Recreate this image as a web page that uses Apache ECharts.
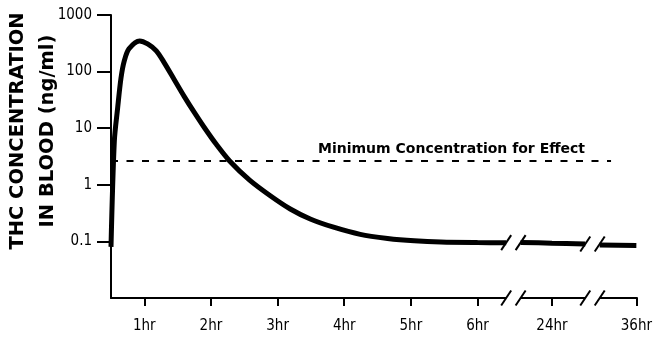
<!DOCTYPE html>
<html>
<head>
<meta charset="utf-8">
<script src="https://cdn.jsdelivr.net/npm/echarts@6/dist/echarts.min.js"></script>
<style>html,body{margin:0;padding:0;background:#fff}#c{width:655px;height:337px}</style>
</head>
<body>
<div id="c"></div>
<script>
// ---- data ----
const hours = [0.5, 0.55, 0.6, 0.65, 0.7, 0.77, 0.93, 1.05, 1.18, 1.3, 1.45, 1.6, 1.75, 1.9, 2.08, 2.28, 2.58, 2.89, 3.19, 3.49, 3.84, 4.24, 4.65, 5.05, 5.45, 6.0, 6.43, 15, 23.53, 24, 24.5, 30, 35.45, 36];
const conc  = [0.08, 5.9, 22.9, 77, 156, 253, 349, 309, 233, 143, 72, 36.2, 19.0, 10.3, 5.19, 2.64, 1.21, 0.641, 0.374, 0.249, 0.178, 0.133, 0.113, 0.1025, 0.0973, 0.0953, 0.095, null, 0.096, 0.093, 0.09, null, 0.086, 0.085];
const xTickValues = [1, 2, 3, 4, 5, 6, 24, 36];
const xTickLabels = ['1hr', '2hr', '3hr', '4hr', '5hr', '6hr', '24hr', '36hr'];
const yTickValues = [0.1, 1, 10, 100, 1000];
const yTickLabels = ['0.1', '1', '10', '100', '1000'];
const minEffect = 2.7;
const minEffectLabel = 'Minimum Concentration for Effect';
const yTitle = 'THC CONCENTRATION\nIN BLOOD (ng/ml)';
const axisBreaks = [{ start: 6.43, end: 23.53 }, { start: 24.5, end: 35.45 }];

// ---- build ----
const lineData = hours.map((h, i) => [h, conc[i] == null ? '-' : conc[i]]);
function levelAt(x) {
  let v = null;
  hours.forEach((h, i) => { if (h <= x && conc[i] != null) v = conc[i]; });
  return v;
}
const breakData = axisBreaks.map(b => [b.start, b.end, levelAt(b.start)]);
const narrow = "'DejaVu Sans Condensed', 'Liberation Sans Narrow', sans-serif";

const chart = echarts.init(document.getElementById('c'), null, { renderer: 'canvas' });
chart.setOption({
  animation: false,
  backgroundColor: '#fff',
  grid: { left: 111, right: 16, top: 15, bottom: 39, containLabel: false },
  xAxis: {
    type: 'value', min: 0.5, max: 36,
    breaks: axisBreaks.map(b => ({ start: b.start, end: b.end, gap: '2.75%' })),
    breakArea: { show: false, itemStyle: { color: 'rgba(0,0,0,0)', borderWidth: 0, opacity: 0 }, zigzagAmplitude: 0 },
    axisLine: { show: true, lineStyle: { color: '#000', width: 2 } },
    axisTick: { show: true, inside: false, length: 8, lineStyle: { color: '#000', width: 2 }, customValues: xTickValues },
    axisLabel: {
      customValues: xTickValues, margin: 21, color: '#000', fontFamily: narrow, fontSize: 15,
      formatter: v => { const i = xTickValues.indexOf(v); return i >= 0 ? xTickLabels[i] : ''; }
    },
    splitLine: { show: false }
  },
  yAxis: {
    type: 'log', logBase: 10, min: 0.01, max: 1000,
    axisLine: { show: true, lineStyle: { color: '#000', width: 2 } },
    axisTick: { show: true, inside: false, length: 14, lineStyle: { color: '#000', width: 2 }, customValues: yTickValues },
    axisLabel: {
      customValues: yTickValues, margin: 19, color: '#000', fontFamily: narrow, fontSize: 15,
      formatter: v => { const i = yTickValues.findIndex(t => Math.abs(t - v) / t < 1e-6); return i >= 0 ? yTickLabels[i] : ''; }
    },
    splitLine: { show: false }
  },
  graphic: [{
    type: 'text', x: 33, y: 131, rotation: Math.PI / 2,
    style: {
      text: yTitle, fill: '#000', align: 'center', verticalAlign: 'middle',
      font: "bold 19.5px 'DejaVu Sans', sans-serif", lineHeight: 30
    }
  }],
  series: [
    {
      type: 'line', data: lineData, showSymbol: false, smooth: 0.3, connectNulls: false,
      lineStyle: { color: '#000', width: 5, cap: 'butt' }, z: 3,
      markLine: {
        silent: true, symbol: 'none', animation: false,
        lineStyle: { color: '#000', width: 2, type: [7, 8.5] },
        label: {
          show: true, position: 'insideEndTop', distance: [26, 4], formatter: minEffectLabel,
          color: '#000', fontWeight: 'bold', fontSize: 14, fontFamily: "'DejaVu Sans', sans-serif"
        },
        data: [[{ coord: [0.5, minEffect] }, { coord: [35.62, minEffect] }]]
      }
    },
    {
      type: 'custom', coordinateSystem: 'cartesian2d', clip: false, z: 10,
      encode: { x: [0, 1], y: 2 },
      data: breakData,
      renderItem: (params, api) => {
        const s = api.value(0), e = api.value(1), lvl = api.value(2);
        const a0 = api.coord([s, 0.01]), a1 = api.coord([e, 0.01]);
        const c0 = api.coord([s, lvl]), c1 = api.coord([e, lvl]);
        const slash = p => ({ type: 'line', shape: { x1: p[0] - 5, y1: p[1] + 7.5, x2: p[0] + 5, y2: p[1] - 7.5 }, style: { stroke: '#000', lineWidth: 2 } });
        return {
          type: 'group',
          children: [
            { type: 'rect', shape: { x: a0[0], y: a0[1] - 2, width: a1[0] - a0[0], height: 4 }, style: { fill: '#fff' } },
            slash(a0), slash(a1), slash(c0), slash(c1)
          ]
        };
      }
    }
  ]
});
</script>
</body>
</html>
